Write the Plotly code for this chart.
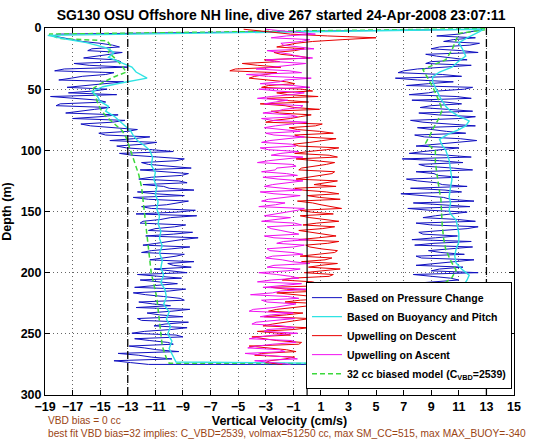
import plotly.graph_objects as go

# ---------------- data ----------------
title_text = "SG130 OSU Offshore NH line, dive 267 started 24-Apr-2008 23:07:11"
x_ticks = [-19, -17, -15, -13, -11, -9, -7, -5, -3, -1, 1, 3, 5, 7, 9, 11, 13, 15]
y_ticks = [0, 50, 100, 150, 200, 250, 300]
limit_lines = [-13, 13]
zero_line = [0]

# sample depths (m) of the noisy pressure-change / upwelling series
depth_steps = [1, 5, 8, 11, 14, 17, 20, 23, 26, 29, 32, 35, 38, 41, 44, 47, 50, 53, 56, 59,
               62, 65, 68, 71, 74, 77, 80, 83, 86, 89, 92, 95, 98, 101, 104, 107, 110, 113, 116, 119,
               122, 125, 128, 131, 134, 137, 140, 143, 146, 149, 152, 155, 158, 161, 164, 167, 170, 173, 176, 179,
               182, 185, 188, 191, 194, 197, 200, 203, 206, 209, 212, 215, 218, 221, 224, 227, 230, 233, 236, 239,
               242, 245, 248, 251, 254, 257, 260, 263, 266, 269, 272, 275]
depth_mid = [6.5, 9.5, 12.5, 15.5, 18.5, 21.5, 24.5, 27.5, 30.5, 33.5, 36.5, 39.5, 42.5, 45.5, 48.5,
             51.5, 54.5, 57.5, 60.5, 63.5, 66.5, 69.5, 72.5, 75.5, 78.5, 81.5, 84.5, 87.5, 90.5, 93.5,
             96.5, 99.5, 102.5, 105.5, 108.5, 111.5, 114.5, 117.5, 120.5, 123.5, 126.5, 129.5, 132.5, 135.5, 138.5,
             141.5, 144.5, 147.5, 150.5, 153.5, 156.5, 159.5, 162.5, 165.5, 168.5, 171.5, 174.5, 177.5, 180.5, 183.5,
             186.5, 189.5, 192.5, 195.5, 198.5, 201.5, 204.5, 207.5, 210.5, 213.5, 216.5, 219.5, 222.5, 225.5, 228.5,
             231.5, 234.5, 237.5, 240.5, 243.5, 246.5, 249.5, 252.5, 255.5, 258.5, 261.5, 264.5, 267.5, 270.5, 273.5]

# Based on Pressure Change: descent (at depth_steps / depth_mid) and ascent (same depths, listed bottom-up)
pressure_desc = [12.7, -18.0, -17.6, -16.3, -14.1, -15.6, -13.4, -15.3, -13.9, -16.9,
                 -13.0, -18.3, -14.6, -17.1, -13.3, -15.9, -14.5, -17.3, -18.6, -15.1,
                 -17.9, -14.3, -16.6, -13.7, -17.0, -14.1, -15.7, -12.3, -15.1, -11.4,
                 -14.3, -11.9, -13.1, -9.7, -12.7, -8.9, -12.0, -9.8, -12.1, -8.6,
                 -11.3, -9.3, -11.9, -10.0, -12.3, -8.9, -11.5, -9.6, -12.0, -8.1,
                 -12.4, -9.9, -11.9, -8.8, -11.0, -8.3, -11.7, -9.1, -10.9, -8.5,
                 -11.3, -8.9, -10.6, -8.2, -9.7, -11.1, -8.7, -10.5, -12.1, -9.4,
                 -12.5, -10.0, -11.7, -9.2, -12.2, -9.9, -8.5, -11.6, -9.0, -12.0,
                 -10.3, -8.7, -11.8, -9.5, -12.5, -10.1, -12.9, -10.9, -13.7, -11.3,
                 -14.0, -11.5]
pressure_desc_mid = [-18.4, -16.8, -15.0, -13.6, -15.9, -14.3, -16.2, -13.5, -15.8, -17.6,
                     -14.0, -16.3, -18.0, -14.8, -17.4, -15.5, -13.8, -16.8, -14.6, -18.2,
                     -15.4, -17.5, -15.0, -13.2, -16.4, -14.2, -13.0, -14.6, -12.6, -10.9,
                     -13.8, -11.2, -13.6, -10.8, -9.5, -11.5, -8.4, -10.6, -9.1, -12.2,
                     -8.7, -10.4, -8.2, -11.0, -12.6, -8.6, -10.2, -11.3, -9.4, -8.0,
                     -10.6, -12.1, -9.6, -11.5, -9.7, -7.9, -10.2, -11.9, -9.8, -12.0,
                     -9.5, -11.4, -10.1, -8.4, -10.0, -12.3, -9.1, -10.8, -11.0, -8.8,
                     -12.6, -10.4, -8.9, -11.2, -12.4, -9.8, -10.7, -12.3, -8.6, -11.1,
                     -9.9, -12.7, -9.0, -11.4, -9.7, -11.8, -9.3, -12.2, -9.8, -12.8]
pressure_asc = [10.2, 8.6, 11.4, 9.2, 12.0, 8.4, 10.8, 9.0, 11.6, 8.2,
                10.4, 12.2, 9.1, 11.0, 7.8, 10.6, 8.0, 11.8, 9.0, 12.3,
                8.6, 10.2, 7.4, 11.0, 8.8, 12.4, 9.6, 7.9, 10.8, 8.3,
                11.4, 8.8, 12.0, 9.2, 7.6, 10.9, 8.1, 11.6, 9.0, 12.2,
                8.4, 10.5, 8.9, 11.8, 7.7, 10.4, 8.2, 11.2, 7.5, 9.8,
                8.0, 11.0, 9.2, 12.0, 8.6, 11.3, 6.9, 10.2, 8.4, 11.0,
                9.3, 12.3, 8.5, 11.5, 9.1, 12.2, 8.4, 11.0, 9.5, 12.0,
                8.2, 11.2, 7.6, 10.8, 8.8, 11.4, 7.2, 10.6, 6.4, 9.8,
                7.0, 10.2, 8.6, 11.6, 9.4, 12.4, 9.0, 11.8, 9.9, 12.2,
                11.0, 12.8]
pressure_asc_mid = [11.6, 9.8, 7.9, 10.6, 9.4, 12.0, 10.1, 7.6, 9.9, 11.9,
                    8.7, 10.0, 7.5, 9.6, 12.1, 9.4, 7.3, 10.3, 8.0, 11.5,
                    9.8, 11.9, 9.2, 10.4, 7.7, 9.0, 11.3, 9.4, 12.1, 7.9,
                    9.7, 10.6, 7.8, 11.9, 9.3, 8.4, 9.8, 12.4, 7.9, 10.9,
                    9.3, 11.6, 7.3, 9.6, 12.1, 9.9, 6.8, 10.0, 11.6, 9.4,
                    7.2, 9.5, 7.9, 10.6, 8.1, 9.6, 11.9, 7.4, 9.7, 7.9,
                    10.4, 11.1, 7.8, 10.1, 8.0, 10.3, 7.5, 12.2, 8.1, 10.2,
                    9.0, 10.0, 11.9, 7.4, 9.5, 12.0, 8.8, 8.0, 11.2, 6.6,
                    8.0, 11.9, 9.0, 10.3, 8.6, 11.2, 9.6, 12.5, 10.6, 9.4]

# Based on Buoyancy and Pitch
buoy_desc_depth = [1, 6, 9, 12, 16, 20, 24, 28, 32, 36, 41, 45, 48, 52, 56, 60, 64, 68, 72, 76,
                   80, 84, 88, 92, 96, 100, 106, 112, 118, 124, 130, 136, 142, 148, 154, 160, 166, 172, 178, 184,
                   190, 196, 202, 208, 214, 220, 226, 232, 238, 244, 250, 256, 262, 268, 273]
buoy_desc_vel = [12.6, -18.8, -17.5, -16.0, -14.6, -14.0, -14.4, -13.6, -12.7, -12.4,
                 -11.6, -13.5, -14.8, -15.6, -15.2, -15.0, -14.4, -14.6, -14.0, -13.6,
                 -13.2, -12.8, -12.6, -12.3, -11.8, -11.4, -11.2, -11.3, -11.0, -11.1,
                 -10.9, -11.0, -10.8, -10.9, -10.7, -10.8, -10.6, -10.7, -10.5, -10.7,
                 -10.5, -10.6, -10.4, -10.6, -10.3, -10.2, -10.4, -10.0, -10.2, -9.9,
                 -10.1, -9.8, -10.0, -9.7, -9.5]
buoy_asc_depth = [275, 268, 262, 256, 250, 244, 238, 232, 226, 222, 216, 211, 206, 202, 197, 192, 186, 181, 175, 168,
                  162, 157, 152, 149, 143, 138, 130, 124, 116, 108, 100, 96, 91, 87, 83, 80, 76, 72, 68, 64,
                  58, 53, 49, 44, 40, 36, 32, 28, 23, 18, 12, 8, 3, 1]
buoy_asc_vel = [11.0, 10.6, 11.2, 10.8, 11.3, 10.9, 11.4, 11.0, 10.7, 10.8,
                11.1, 11.3, 11.6, 11.75, 11.2, 10.8, 10.7, 10.8, 11.0, 11.0,
                10.9, 10.8, 10.4, 10.3, 10.4, 10.3, 10.4, 10.5, 10.4, 10.3,
                10.05, 9.8, 9.6, 10.2, 11.0, 11.5, 11.75, 11.0, 10.4, 10.05,
                9.7, 9.5, 9.3, 9.1, 9.1, 9.6, 10.5, 10.9, 11.5, 11.3,
                11.0, 11.6, 12.5, 12.8]

# Upwelling on Descent (depth_steps / depth_mid) and on Ascent (same depths, listed bottom-up)
upwell_desc = [-4.6, -1.2, 5.0, 0.4, -1.6, -0.2, -2.4, -0.6, -3.1, -4.7,
               -1.9, -5.6, -3.0, -4.2, -1.5, -2.8, -0.4, -2.2, 0.8, -1.8,
               -3.4, -0.9, -2.6, 0.3, -1.2, -3.0, 0.6, -0.7, 1.9, -0.4,
               1.2, -1.0, 2.3, 0.1, 1.6, -0.8, 2.0, 0.3, -0.6, 1.8,
               -0.2, 2.2, 0.5, -0.9, 1.4, 0.0, 2.4, 0.4, 1.7, -0.5,
               1.9, 0.2, 2.3, -0.3, 1.1, 0.4, 2.1, -0.6, 1.5, 0.2,
               2.2, 0.6, 1.8, -0.4, 1.0, 2.4, -0.2, 1.6, -1.8, 0.8,
               -2.6, 1.2, -0.9, 1.8, -1.6, 0.3, -2.2, -0.3, -3.1, -0.8,
               -2.5, 0.1, -3.6, -1.2, -2.9, -0.4, -4.2, -1.5, -3.3, -0.9,
               -2.7, -1.8]
upwell_desc_mid = [1.5, 2.6, -0.8, -2.2, -0.9, -1.9, 0.2, -2.0, -3.6, -5.2,
                   -2.2, -3.8, -2.6, -0.9, -3.3, 0.4, -1.4, -2.9, 0.1, -1.6,
                   0.9, -2.0, -0.5, -2.4, 1.1, -1.3, 0.9, -0.9, 2.1, 0.2,
                   -0.6, 1.4, -0.9, 2.2, 0.6, 1.4, -0.4, 2.0, 0.8, -0.8,
                   1.3, 2.1, -0.3, 2.3, 0.9, -0.7, 1.0, 2.5, 0.3, -0.5,
                   1.2, 0.7, 2.0, -0.6, 1.4, 0.8, 2.3, -0.1, 1.0, 2.0,
                   -0.5, 1.3, 2.2, 0.1, 0.9, 1.9, -1.1, 0.4, 1.5, -1.5,
                   -2.2, 0.6, -0.5, 1.4, -1.2, -2.8, -1.5, 0.2, -1.9, -3.2,
                   -1.0, -2.0, -4.0, -2.2, -0.6, -2.6, -0.8, -3.8, -1.6, -3.0]
upwell_asc = [-1.2, -3.8, -1.4, -4.5, -2.0, -3.6, -0.8, -4.2, -2.4, -3.1,
              -0.9, -4.0, -2.2, -3.4, -1.0, -3.9, -1.6, -2.9, -0.6, -4.1,
              -1.9, -3.2, -0.4, -2.6, -1.2, -3.5, -0.5, -2.4, -1.1, -3.0,
              -0.3, -2.7, -1.0, -2.2, 0.1, -3.1, -1.4, -2.6, -0.4, -3.3,
              -1.2, -2.4, -0.7, -3.5, -1.6, -2.8, -0.5, -3.4, -1.9, -2.5,
              -0.3, -3.2, -1.5, -2.3, -0.8, -3.6, -1.7, -2.6, -0.6, -3.4,
              -1.1, -2.7, -0.2, -3.0, -1.6, -2.3, 0.0, -3.3, -1.2, -2.2,
              -0.5, -3.1, -1.4, -2.6, -0.2, -3.5, -1.0, -2.0, 0.3, -4.4,
              -1.3, -2.4, -0.1, -3.0, -0.8, -2.1, 0.5, -1.7, -0.4, -2.6,
              0.6, -3.0]
upwell_asc_mid = [-2.7, -0.7, -3.0, -1.6, -4.3, -2.5, -1.1, -3.4, -0.7, -2.9,
                  -1.8, -3.7, -0.9, -2.6, -4.2, -2.4, -0.8, -3.3, -1.4, -2.5,
                  0.1, -2.0, -3.6, -0.6, -2.2, -1.4, -2.9, 0.2, -1.8, -2.5,
                  -1.1, -2.9, -0.2, -1.7, -2.4, -0.6, -1.9, -2.9, -0.9, -2.2,
                  -3.1, -1.5, -0.2, -2.3, -3.3, -1.6, -2.4, -0.4, -3.1, -1.3,
                  -2.1, -0.7, -3.3, -2.2, -1.1, -2.8, -0.3, -1.9, -2.8, -0.8,
                  -3.3, -1.6, -2.4, -0.5, -3.1, -1.3, -2.5, -0.7, -3.2, -1.7,
                  -0.3, -2.3, -3.6, -1.1, -2.1, 0.2, -3.4, -1.6, -2.8, -0.4,
                  -3.7, -1.5, -2.3, 0.4, -1.2, -2.9, -0.5, -1.9, 0.2, -1.5]

# 32 cc biased model
model_desc_depth = [0.5, 5, 8.5, 10.5, 15, 20, 25, 30, 36, 40, 45, 50, 55, 60, 66, 72, 78, 84, 90, 96,
                    100, 110, 120, 130, 140, 150, 160, 175, 190, 200, 210, 220, 230, 240, 250, 260, 270, 274]
model_desc_vel = [12.9, -18.7, -18.0, -14.5, -14.2, -14.4, -13.9, -13.5, -13.1, -14.0,
                  -14.9, -15.6, -15.4, -15.2, -15.0, -14.6, -14.0, -13.4, -13.1, -12.9,
                  -12.8, -12.5, -12.2, -12.0, -11.9, -11.8, -11.7, -11.6, -11.4, -11.3,
                  -11.1, -10.9, -10.8, -10.7, -10.6, -10.5, -10.2, -10.0]
model_asc_depth = [274.5, 265, 255, 245, 235, 230, 225, 218, 211, 204, 198, 190, 181, 172, 162, 150, 140, 130, 119, 110,
                   100, 94, 88, 83, 75, 67, 58, 48, 40, 34, 30, 26, 18, 10, 4.4, 1.5]
model_asc_vel = [9.8, 10.0, 10.1, 10.0, 10.1, 10.05, 9.6, 9.6, 9.7, 10.5,
                 10.8, 10.4, 10.05, 9.9, 9.8, 9.75, 9.7, 9.55, 9.4, 9.3,
                 9.3, 8.6, 8.9, 9.1, 9.5, 9.8, 9.5, 9.1, 8.7, 8.4,
                 9.2, 10.05, 10.5, 10.8, 11.0, 12.9]

note_lines = ["VBD bias = 0 cc",
              "best fit VBD bias=32 implies: C_VBD=2539, volmax=51250 cc, max SM_CC=515, max MAX_BUOY=-340"]

assert len(pressure_desc) == len(depth_steps) == len(pressure_asc) == len(upwell_desc) == len(upwell_asc)
assert len(depth_mid) == len(pressure_desc_mid) == len(pressure_asc_mid) == len(upwell_desc_mid) == len(upwell_asc_mid)
assert len(buoy_desc_depth) == len(buoy_desc_vel) and len(buoy_asc_depth) == len(buoy_asc_vel)
assert len(model_desc_depth) == len(model_desc_vel) and len(model_asc_depth) == len(model_asc_vel)


def merge_down(d1, v1, d2, v2):
    """combine two sample sets into one profile ordered by increasing depth"""
    pts = sorted(list(zip(d1, v1)) + list(zip(d2, v2)), key=lambda p: p[0])
    return [p[0] for p in pts], [p[1] for p in pts]


def merge_up(d1, v1, d2, v2):
    """combine two sample sets into one profile ordered by decreasing depth"""
    pts = sorted(list(zip(d1, v1)) + list(zip(d2, v2)), key=lambda p: -p[0])
    return [p[0] for p in pts], [p[1] for p in pts]


depth_up = depth_steps[::-1]
mid_up = depth_mid[::-1]
pd_d, pd_v = merge_down(depth_steps, pressure_desc, depth_mid, pressure_desc_mid)
pa_d, pa_v = merge_up(depth_up, pressure_asc, mid_up, pressure_asc_mid)
ud_d, ud_v = merge_down(depth_steps, upwell_desc, depth_mid, upwell_desc_mid)
ua_d, ua_v = merge_up(depth_up, upwell_asc, mid_up, upwell_asc_mid)

# ---------------- figure ----------------
FONT = "Liberation Sans, Arial, Helvetica, sans-serif"

fig = go.Figure()
fig.add_trace(go.Scatter(x=pd_v + pa_v, y=pd_d + pa_d, mode="lines",
                         line=dict(color="#1010c0", width=1), name="Based on Pressure Change", legendrank=1))
fig.add_trace(go.Scatter(x=model_desc_vel + model_asc_vel, y=model_desc_depth + model_asc_depth, mode="lines",
                         line=dict(color="#3cd83c", width=1.5, dash="5px,3px"),
                         name="32 cc biased model (C<sub>VBD</sub>=2539)", legendrank=5))
fig.add_trace(go.Scatter(x=buoy_desc_vel + buoy_asc_vel, y=buoy_desc_depth + buoy_asc_depth, mode="lines",
                         line=dict(color="#2fe3e3", width=1.4), name="Based on Buoyancy and Pitch", legendrank=2))
fig.add_trace(go.Scatter(x=ud_v, y=ud_d, mode="lines",
                         line=dict(color="#e80000", width=1), name="Upwelling on Descent", legendrank=3))
fig.add_trace(go.Scatter(x=ua_v, y=ua_d, mode="lines",
                         line=dict(color="#f010f0", width=1), name="Upwelling on Ascent", legendrank=4))

for v in limit_lines:
    fig.add_vline(x=v, line=dict(color="black", width=1.3, dash="8px,4px"))
for v in zero_line:
    fig.add_vline(x=v, line=dict(color="black", width=1.2))

axis_common = dict(
    ticks="inside", ticklen=5, tickcolor="black", tickwidth=1,
    showline=True, linecolor="black", linewidth=1, mirror="ticks",
    showgrid=True, gridcolor="rgba(0,0,0,0.6)", griddash="1px,3px", gridwidth=1,
    zeroline=False, automargin=False,
    tickfont=dict(family=FONT, size=12.5, color="black", weight="bold"),
)

fig.update_xaxes(range=[-19, 15], tickvals=x_ticks, ticktext=[str(t).replace("-", "\u2212") for t in x_ticks],
                 title=dict(text="Vertical Velocity (cm/s)", standoff=1,
                            font=dict(family=FONT, size=12.5, color="black", weight="bold")),
                 **axis_common)
fig.update_yaxes(range=[300, 0], tickvals=y_ticks,
                 title=dict(text="Depth (m)", standoff=6,
                            font=dict(family=FONT, size=12.5, color="black", weight="bold")),
                 **axis_common)

fig.update_layout(
    width=560, height=442,
    margin=dict(l=45, r=46, t=28, b=47),
    paper_bgcolor="white", plot_bgcolor="white",
    font=dict(family=FONT, color="black"),
    title=dict(text=title_text, x=0.502, xanchor="center", y=1 - 15 / 442, yanchor="middle",
               yref="container", font=dict(family=FONT, size=14, color="black", weight="bold")),
    showlegend=True,
    legend=dict(x=0.9957, xanchor="right", y=0.016, yanchor="bottom",
                bgcolor="white", bordercolor="black", borderwidth=1,
                font=dict(family=FONT, size=10.5, color="black", weight="bold"),
                itemwidth=30, tracegroupgap=0),
)

note_px = [420.5, 433.5]
for txt, ypx in zip(note_lines, note_px):
    fig.add_annotation(text=txt, xref="paper", yref="paper", x=0.004, y=(395 - ypx) / 367,
                       xanchor="left", yanchor="middle", borderpad=0,
                       showarrow=False, font=dict(family=FONT, size=10.2, color="#9a4414"))

fig.write_html("out.html", config={"displayModeBar": False},
               post_script="document.body.style.margin='0';")
